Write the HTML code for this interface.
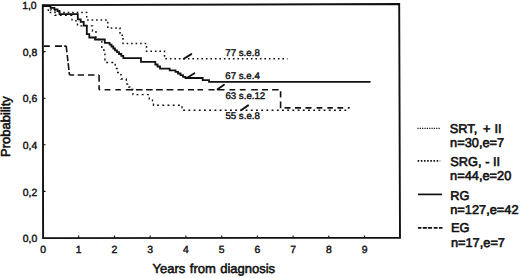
<!DOCTYPE html>
<html><head><meta charset="utf-8">
<style>
html,body{margin:0;padding:0;background:#fff;}
body{width:520px;height:278px;overflow:hidden;position:relative;}
svg{position:absolute;left:0;top:0;}
text{font-family:"Liberation Sans",sans-serif;fill:#111;text-rendering:geometricPrecision;}
.tk{font-size:10.4px;stroke:#111;stroke-width:0.42px;}
.ax{font-size:13px;stroke:#111;stroke-width:0.55px;}
.lg{font-size:12.8px;stroke:#111;stroke-width:0.6px;}
.cl{font-size:9.7px;stroke:#111;stroke-width:0.4px;}
</style></head>
<body>
<svg width="520" height="278" viewBox="0 0 520 278">
<g fill="none" stroke="#111" stroke-linecap="butt" stroke-linejoin="miter">
  <!-- frame -->
  <path d="M42.8,5.1 L399.2,4.0 L400,237.7 L43.1,238.1 Z" stroke-width="1.9"/>
  <!-- x ticks -->
  <path stroke-width="1.1" d="M78.7,238 v-2.6 M114.5,238 v-2.6 M150.2,238 v-2.6 M185.9,238 v-2.6 M221.7,238 v-2.6 M257.4,238 v-2.6 M293.1,238 v-2.6 M328.8,238 v-2.6 M364.6,238 v-2.6"/>
  <!-- y ticks -->
  <path stroke-width="1.1" d="M43,191.4 h2.6 M43,144.8 h2.6 M43,98.2 h2.6 M43,51.6 h2.6"/>

  <!-- RG solid -->
  <path stroke-width="1.8" d="M43,6.2 H50.6 V7.9 H54.4 V9.4 H57.5 V11 H59.5 V14.2 H77.8 V19.4 H80.7 V21.8 H83.7 V25.6 H86.8 V34.1 H89.3 V37.5 H95 V39.5 H104.8 V42.9 H109.6 V44.6 H111.5 V46.5 H113.3 V48.5 H115 V50.3 H117 V52.2 H119 V54 H121.3 V55.8 H123.3 V58.2 H141 V61.9 H155.3 V64.5 H157.5 V66.5 H160 V68.7 H169.7 V70.4 H175.5 V71.8 H178 V73.5 H180.5 V75.2 H183 V76.8 H185.5 V78 H202.7 V80.2 H209 V81.9 H370.5"/>

  <!-- SRT dotted -->
  <path stroke-width="1.5" stroke-dasharray="1.6 2.9" d="M43,5.6 H48.3 V12.4 H86.7 V20 H107.8 V27.9 H120 V35.2 H123 V43.5 H146.5 V51.2 H164.5 V58.7 H287.5"/>

  <!-- SRG dotted -->
  <path stroke-width="1.4" stroke-dasharray="1.9 3.3" d="M43.5,5.6 H51 V10.3 H55 V15.3 H72 V20.9 H77.5 V25.9 H92.5 V31 H96 V39.5 H101.8 V50 H104 V52.6 H104.9 V62.5 H113.8 V64.5 H115.2 V68.5 H117 V72.5 H120 V74.6 H121 V79 H126.3 V84 H128.8 V87 H131 V89.5 H133 V94.6 H149.3 V99 H152.5 V101.7 H153.5 V105.2 H182 V110.3 H349.5"/>

  <!-- EG dashed -->
  <path stroke-width="1.6" d="M44,46.1 H49.8 M55,46.1 H61.9 M64.2,46.1 H66.4 M66.21,46.1 L66.92,52.3 M67.22,55 L67.93,61.2 M68.16,63.2 L68.93,70 M69.16,72 L69.50,75 M69.5,75 H74.2 M77.7,75 H84 M88,75 H94.5 M98.3,75 H99 M99.1,75 V81.7 M99.1,85.2 V89.7 M99.1,89.7 H100.2 M104.6,89.7 H110.4 M115.4,89.7 H120.8 M125.8,89.7 H133 M135.9,89.7 H142.6 M146,89.7 H152.7 M156,89.7 H162.8 M166.6,89.7 H173.4 M177.5,89.7 H183.8 M187.9,89.7 H194 M197.5,89.7 H203 M208.5,89.7 H214.5 M217.4,89.7 H224.5 M229.5,89.7 H235.2 M239.8,89.7 H245.6 M251.2,89.7 H257.8 M262,89.7 H268 M272.1,89.7 H278.6 M280.6,91.2 V97.5 M280.6,101.5 V108.3 M284.6,107.9 H290.5 M295,107.9 H301 M305.4,107.9 H311.5 M316.6,107.9 H322.4 M327.4,107.9 H332.8 M337.4,107.9 H343.2 M347.8,107.9 H349.7"/>

  <!-- markers -->
  <path stroke-width="1.9" stroke-linecap="round" d="M183.8,58.8 L191.3,54.1 M187.3,77.8 L194.4,73.3 M217.6,89.3 L224,84.8 M241,110.3 L248.2,105.4"/>

  <!-- legend lines -->
  <path stroke-width="1.4" stroke-dasharray="1.2 1.15" d="M417.4,128.4 H440.2"/>
  <path stroke-width="1.6" stroke-dasharray="1.6 1.57" d="M417.6,160.9 H440.2"/>
  <path stroke-width="1.7" d="M417.9,194.4 H442.1"/>
  <path stroke-width="1.7" d="M417.9,227.9 H421.4 M422.7,227.9 H426.9 M427.9,227.9 H432.1 M433.8,227.9 H437.6 M439,227.9 H442.5"/>
</g>

<!-- y labels -->
<g class="tk" text-anchor="end">
  <text x="36.6" y="9">1,0</text>
  <text x="37.2" y="56">0,8</text>
  <text x="37.2" y="102">0,6</text>
  <text x="37.2" y="149">0,4</text>
  <text x="37.2" y="196">0,2</text>
  <text x="37.2" y="242">0,0</text>
</g>
<!-- x labels -->
<g class="tk" text-anchor="middle">
  <text x="43.2" y="253">0</text>
  <text x="78.7" y="253">1</text>
  <text x="114.5" y="253">2</text>
  <text x="150.2" y="253">3</text>
  <text x="185.9" y="253">4</text>
  <text x="221.7" y="253">5</text>
  <text x="257.4" y="253">6</text>
  <text x="293.1" y="253">7</text>
  <text x="328.8" y="253">8</text>
  <text x="364.6" y="253">9</text>
</g>

<text class="ax" x="152.6" y="273" word-spacing="0.8">Years from diagnosis</text>
<text class="ax" transform="translate(10.2,156.9) rotate(-90)" x="0" y="0">Probability</text>

<!-- curve labels -->
<g class="cl">
  <text x="225.3" y="56">77 s.e.8</text>
  <text x="225.3" y="79">67 s.e.4</text>
  <text x="225.4" y="99">63 s.e.12</text>
  <text x="225.4" y="119">55 s.e.8</text>
</g>

<!-- legend text -->
<g class="lg">
  <text x="449.7" y="133">SRT,<tspan dx="2.2"> +</tspan><tspan dx="0.4"> II</tspan></text>
  <text x="450.1" y="147">n=30,e=7</text>
  <text x="450.3" y="166">SRG, - II</text>
  <text x="450.1" y="180">n=44,e=20</text>
  <text x="450.3" y="200">RG</text>
  <text x="450.2" y="214">n=127,e=42</text>
  <text x="450.9" y="232">EG</text>
  <text x="450.9" y="247">n=17,e=7</text>
</g>
</svg>
</body></html>
